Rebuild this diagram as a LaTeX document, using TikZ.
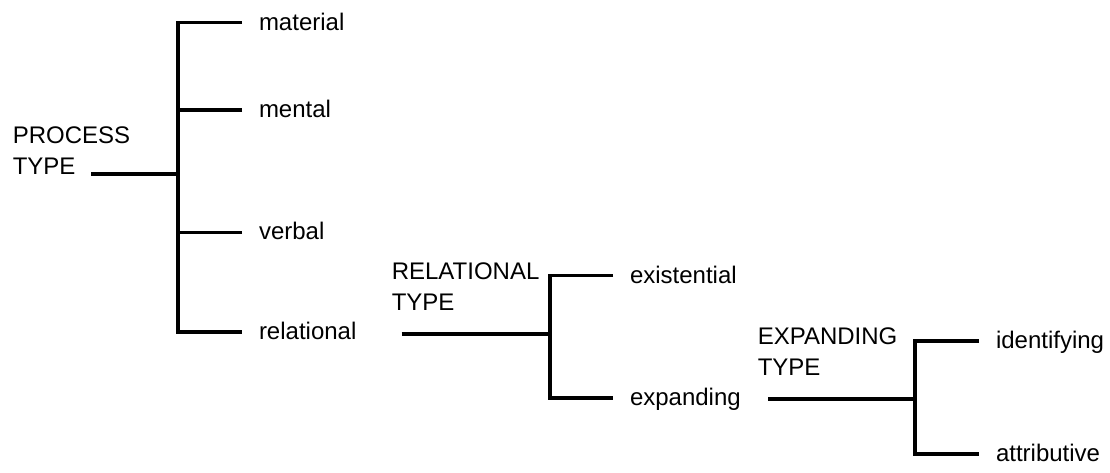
\documentclass[tikz,border=0pt]{standalone}
\usepackage{fontspec}
\setmainfont{Liberation Sans}
\begin{document}
\begin{tikzpicture}[x=1pt,y=-1pt,
  line width=3.5pt,
  leaf/.style={anchor=west,inner sep=0pt,outer xsep=17pt,text height=17pt,text depth=2pt,font=\fontsize{24}{30}\selectfont},
  heading/.style={anchor=base west,inner sep=0pt,align=left,font=\fontsize{24}{31}\selectfont}]
\useasboundingbox (0,0) rectangle (1110,473);
% PROCESS TYPE
\node[heading] (ptype) at (11,175) {PROCESS\\TYPE};
\coordinate (pstart) at (91,174);
\coordinate (pj) at (178,174);
\node[leaf] (material) at (242,22.7) {material};
\node[leaf] (mental) at (242,110) {mental};
\node[leaf] (verbal) at (242,232.3) {verbal};
\node[leaf] (relational) at (242,332) {relational};
\draw (pstart) -- (pj);
\draw (material.west) -- (material.west -| pj) -- (relational.west -| pj) -- (relational.west);
\draw (mental.west) -- (mental.west -| pj);
\draw (verbal.west) -- (verbal.west -| pj);
% RELATIONAL TYPE
\node[heading] (rtype) at (390,310) {RELATIONAL\\TYPE};
\coordinate (rstart) at (401.7,334);
\coordinate (rj) at (550,334);
\node[leaf] (existential) at (613,275.7) {existential};
\node[leaf] (expanding) at (613,398) {expanding};
\draw (rstart) -- (rj);
\draw (existential.west) -- (existential.west -| rj) -- (expanding.west -| rj) -- (expanding.west);
% EXPANDING TYPE
\node[heading] (etype) at (756,375) {EXPANDING\\TYPE};
\coordinate (estart) at (768,399);
\coordinate (ej) at (915,399);
\node[leaf] (identifying) at (979,341) {identifying};
\node[leaf] (attributive) at (979,454) {attributive};
\draw (estart) -- (ej);
\draw (identifying.west) -- (identifying.west -| ej) -- (attributive.west -| ej) -- (attributive.west);
\end{tikzpicture}
\end{document}
